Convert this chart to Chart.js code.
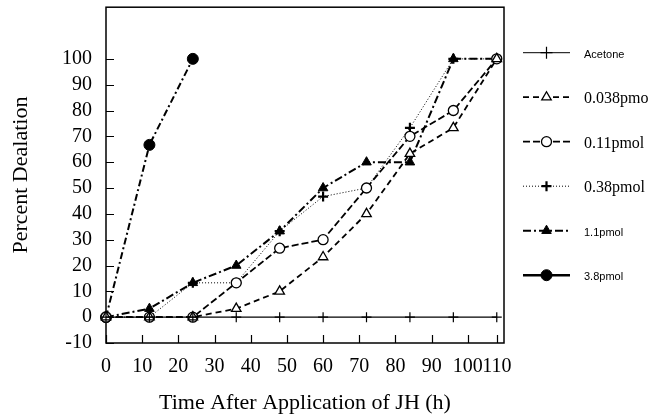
<!DOCTYPE html>
<html>
<head>
<meta charset="utf-8">
<script src="https://cdn.jsdelivr.net/npm/chart.js@4/dist/chart.umd.min.js"></script>
<style>
    html, body { margin: 0; padding: 0; background: #fff; }
    #wrap { width: 663px; height: 420px; }
</style>
</head>
<body>
<div id="wrap"><canvas id="myChart"></canvas></div>
<script>
// hours after JH application, and % dealation for each dose
const hours = [0, 12, 24, 36, 48, 60, 72, 84, 96, 108];
const seriesNames = ['Acetone', '0.038pmo', '0.11pmol', '0.38pmol', '1.1pmol', '3.8pmol'];
const acetone  = [0, 0, 0, 0, 0, 0, 0, 0, 0, 0];
const dose0038 = [0, 0, 0, 3.3, 10, 23.3, 40, 63.3, 73.3, 100];
const dose011  = [0, 0, 0, 13.3, 26.7, 30, 50, 70, 80, 100];
const dose038  = [0, 0, 13.3, 13.3, 33.3, 46.7, 50, 73.3, 100, 100];
const dose11   = [0, 3.3, 13.3, 20, 33.3, 50, 60, 60, 100, 100];
const dose38   = [0, 66.7, 100, null, null, null, null, null, null, null];

const xTickValues = [0, 10, 20, 30, 40, 50, 60, 70, 80, 90, 100, 108];
const xTickLabels = ['0', '10', '20', '30', '40', '50', '60', '70', '80', '90', '100', '110'];
const yTickValues = [-10, 0, 10, 20, 30, 40, 50, 60, 70, 80, 90, 100];

const serif = "'Liberation Serif', 'Times New Roman', serif";
const sans = "'Liberation Sans', Arial, sans-serif";

const toPoints = (vals) => hours.map((h, i) => ({ x: h, y: vals[i] }));

const lineDataset = (label, vals, style) => Object.assign({
    label: label,
    data: toPoints(vals),
    borderColor: '#000',
    pointBorderColor: '#000',
    tension: 0,
    clip: false,
    spanGaps: false
}, style);

// frame + inward tick marks
const framePlugin = {
    id: 'frame',
    beforeDatasetsDraw(chart) {
        const { ctx, chartArea: a, scales } = chart;
        ctx.save();
        ctx.strokeStyle = '#000';
        ctx.lineWidth = 1.5;
        ctx.setLineDash([]);
        ctx.strokeRect(a.left, a.top, a.right - a.left, a.bottom - a.top);
        ctx.lineWidth = 1.2;
        ctx.beginPath();
        scales.y.ticks.forEach(t => {
            const y = Math.round(scales.y.getPixelForValue(t.value)) + 0.5;
            ctx.moveTo(a.left, y);
            ctx.lineTo(a.left + 8, y);
        });
        scales.x.ticks.forEach(t => {
            const x = Math.round(scales.x.getPixelForValue(t.value)) + 0.5;
            ctx.moveTo(x, a.bottom);
            ctx.lineTo(x, a.bottom - 8);
        });
        ctx.stroke();
        ctx.restore();
    }
};

const legendDash = [[], [6, 4], [7, 3], [1, 2], [8, 3, 2, 3], []];
const legendFonts = ['11px ' + sans, '16px ' + serif, '16px ' + serif, '16px ' + serif, '11px ' + sans, '11px ' + sans];

const legendPlugin = {
    id: 'sideLegend',
    afterDraw(chart) {
        const ctx = chart.ctx;
        ctx.save();
        chart.data.datasets.forEach((ds, i) => {
            const y = 52.7 + i * 44.5;
            ctx.strokeStyle = '#000';
            ctx.fillStyle = '#000';
            ctx.lineWidth = i == 0 ? 1 : (i == 5 ? 2.5 : ds.borderWidth);
            ctx.setLineDash(legendDash[i]);
            ctx.beginPath();
            ctx.moveTo(523, y);
            ctx.lineTo(570, y);
            ctx.stroke();
            ctx.setLineDash([]);
            ctx.fillStyle = ds.pointBackgroundColor;
            ctx.lineWidth = ds.pointBorderWidth;
            Chart.helpers.drawPoint(ctx, {
                pointStyle: ds.pointStyle,
                rotation: 0,
                radius: i == 0 ? 6 : ds.pointRadius,
                borderWidth: ds.pointBorderWidth
            }, 546.5, y);
            ctx.fillStyle = '#000';
            ctx.font = legendFonts[i];
            ctx.textBaseline = 'middle';
            ctx.textAlign = 'left';
            ctx.fillText(ds.label, 584, y + 2);
        });
        ctx.restore();
    }
};

var ctx = document.getElementById('myChart').getContext('2d');

var myChart = new Chart(ctx, {
    type: 'line',
    data: {
        datasets: [
            lineDataset(seriesNames[0], acetone, {
                borderWidth: 1.2, pointStyle: 'cross', pointRadius: 5,
                pointBorderWidth: 1.2, pointBackgroundColor: '#000'
            }),
            lineDataset(seriesNames[1], dose0038, {
                borderWidth: 1.8, borderDash: [6, 4], pointStyle: 'triangle', pointRadius: 5.5,
                pointBorderWidth: 1.3, pointBackgroundColor: '#fff'
            }),
            lineDataset(seriesNames[2], dose011, {
                borderWidth: 1.8, borderDash: [7, 3], pointStyle: 'circle', pointRadius: 5,
                pointBorderWidth: 1.3, pointBackgroundColor: '#fff'
            }),
            lineDataset(seriesNames[3], dose038, {
                borderWidth: 1, borderDash: [1, 2], pointStyle: 'cross', pointRadius: 5,
                pointBorderWidth: 2.2, pointBackgroundColor: '#000'
            }),
            lineDataset(seriesNames[4], dose11, {
                borderWidth: 2, borderDash: [8, 3, 2, 3], pointStyle: 'triangle', pointRadius: 5.5,
                pointBorderWidth: 1, pointBackgroundColor: '#000'
            }),
            lineDataset(seriesNames[5], dose38, {
                borderWidth: 2, borderDash: [7, 3, 2, 3], pointStyle: 'circle', pointRadius: 5.5,
                pointBorderWidth: 1, pointBackgroundColor: '#000'
            })
        ]
    },
    options: {
        responsive: true,
        maintainAspectRatio: false,
        animation: false,
        devicePixelRatio: 1,
        layout: { padding: { top: 6, right: 159, left: 0, bottom: 0 } },
        plugins: { legend: { display: false }, tooltip: { enabled: false } },
        scales: {
            x: {
                type: 'linear',
                min: 0,
                max: 110,
                afterBuildTicks: (s) => { s.ticks = xTickValues.map(v => ({ value: v })); },
                afterFit: (s) => { s.height = 77; s.paddingLeft = 0; s.paddingRight = 0; },
                grid: { display: false, drawTicks: false },
                border: { display: false },
                ticks: {
                    autoSkip: false,
                    maxRotation: 0,
                    padding: 12,
                    color: '#000',
                    font: { family: serif, size: 20 },
                    callback: (v, i) => xTickLabels[i]
                },
                title: {
                    display: true,
                    text: 'Time After Application of JH (h)',
                    color: '#000',
                    font: { family: serif, size: 22, lineHeight: 1 },
                    padding: { top: 0, bottom: 6 }
                }
            },
            y: {
                min: -10,
                max: 120,
                afterBuildTicks: (s) => { s.ticks = yTickValues.map(v => ({ value: v })); },
                afterFit: (s) => { s.width = 106; s.paddingTop = 0; s.paddingBottom = 0; },
                grid: { display: false, drawTicks: false },
                border: { display: false },
                ticks: {
                    autoSkip: false,
                    padding: 14,
                    color: '#000',
                    font: { family: serif, size: 20 }
                },
                title: {
                    display: true,
                    text: 'Percent Dealation',
                    color: '#000',
                    font: { family: serif, size: 22, lineHeight: 1 },
                    padding: { top: 10, bottom: 0 }
                }
            }
        }
    },
    plugins: [framePlugin, legendPlugin]
});
</script>
</body>
</html>
